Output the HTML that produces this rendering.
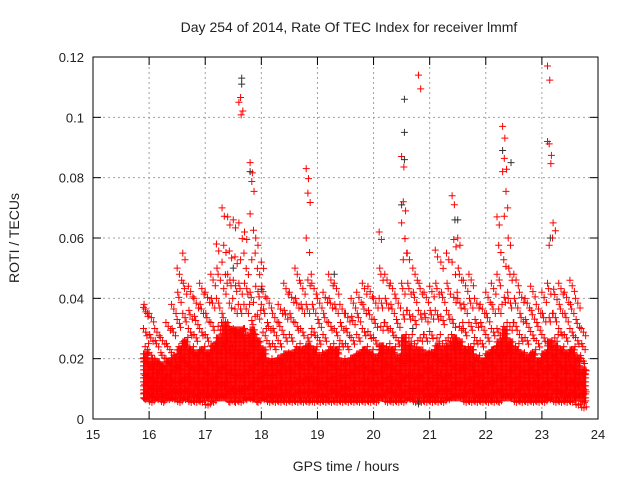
<!DOCTYPE html>
<html><head><meta charset="utf-8"><style>
body{margin:0;background:#fff}
svg text{font-family:"Liberation Sans",sans-serif;fill:#222}
</style></head><body>
<svg id="chart" width="640" height="480" xmlns="http://www.w3.org/2000/svg">
<rect width="640" height="480" fill="#fff"/>
<text x="349" y="32" font-size="14" text-anchor="middle">Day 254 of 2014, Rate Of TEC Index for receiver lmmf</text>
<text transform="translate(19,238) rotate(-90)" font-size="14" text-anchor="middle">ROTI / TECUs</text>
<text x="346" y="471" font-size="14" text-anchor="middle">GPS time / hours</text>
<g id="grid"></g><g id="marks"></g><g id="axes"></g>
</svg>
<script>
const xTicks=[15,16,17,18,19,20,21,22,23,24];
const yTicks=[0,0.02,0.04,0.06,0.08,0.1,0.12];
const yTickLabels=["0","0.02","0.04","0.06","0.08","0.1","0.12"];
const binTimes=[15.9,16.0,16.1,16.2,16.3,16.4,16.5,16.6,16.7,16.8,16.9,17.0,17.1,17.2,17.3,17.4,17.5,17.6,17.7,17.8,17.9,18.0,18.1,18.2,18.3,18.4,18.5,18.6,18.7,18.8,18.9,19.0,19.1,19.2,19.3,19.4,19.5,19.6,19.7,19.8,19.9,20.0,20.1,20.2,20.3,20.4,20.5,20.6,20.7,20.8,20.9,21.0,21.1,21.2,21.3,21.4,21.5,21.6,21.7,21.8,21.9,22.0,22.1,22.2,22.3,22.4,22.5,22.6,22.7,22.8,22.9,23.0,23.1,23.2,23.3,23.4,23.5,23.6,23.7];
// values in thousandths of TECU
const binValues=["37,38,30,25,20,15,12,9,7","35,28,22,18,14,11,8,6","30,26,20,16,13,10,7","27,22,18,14,11,8,6","32,25,20,15,12,9,7","38,30,22,17,13,10,7","50,42,33,25,18,13,9,6","55,45,35,27,20,14,10,7","44,36,30,24,18,13,9,6","40,34,28,22,17,12,8,6","45,38,30,24,18,13,9,6","42,35,28,22,16,12,8,5","48,40,32,25,19,14,10,6","58,50,40,32,24,17,12,8","70,60,52,45,35,26,18,12,8","67,58,48,40,32,24,16,10,6","66,56,46,38,30,22,15,10,6","105,111,65,55,45,38,30,22,15,10,6","62,52,45,38,30,22,16,11,7","85,82,68,55,42,34,26,18,12,7","60,52,44,36,28,20,14,9,6","52,44,38,30,22,16,11,7","40,32,26,20,15,11,8,6","35,30,25,20,15,11,8,6","38,32,26,20,16,12,8,6","45,36,28,22,17,12,9,6","42,35,28,22,17,12,8,6","50,40,32,25,19,13,9,6","45,38,30,24,18,13,9,6","83,78,60,48,38,28,20,14,9,6","45,38,30,24,18,13,9,6","40,33,27,22,17,12,8,6","42,35,28,22,17,12,8,6","48,40,32,25,19,14,10,6","45,38,30,24,18,13,9,6","38,32,26,20,15,11,8,6","35,30,25,20,15,11,8,6","40,34,27,21,16,12,8,6","42,35,28,22,17,12,8,6","45,38,30,24,18,13,9,6","44,36,29,23,17,12,8,6","40,33,27,21,16,12,8,6","62,50,40,32,24,17,12,8","48,40,32,25,19,14,10,6","45,38,30,24,18,13,9,6","40,33,27,21,16,12,8,6","87,75,65,55,45,36,28,20,14,9,6","55,45,36,28,21,15,10,7","50,42,34,26,20,14,10,6","114,45,36,28,21,15,10,6","42,35,28,22,17,12,8,6","44,36,29,23,17,12,8,6","56,45,36,28,21,15,10,6","52,42,34,26,20,14,10,6","55,45,36,28,21,15,10,7","74,62,52,42,33,25,18,12,8","60,50,40,32,24,17,12,8","46,38,30,24,18,13,9,6","48,40,32,25,19,14,10,6","40,33,27,21,16,12,8,6","38,32,26,20,15,11,8,6","42,35,28,22,17,12,8,6","45,38,30,24,18,13,9,6","67,60,48,38,30,22,15,10,6","97,90,82,70,55,42,32,22,14,8","60,50,40,32,24,17,12,8","48,40,32,25,19,14,10,6","42,35,28,22,17,12,8,6","40,33,27,21,16,12,8,6","44,36,29,23,17,12,8,6","38,32,26,20,15,11,8,6","42,35,28,22,17,12,8,6","117,95,92,60,45,35,26,18,12,7","65,43,35,28,21,15,10,6","45,38,30,24,18,13,9,6","42,35,28,22,17,12,8,6","46,38,30,24,18,13,9,6","40,33,27,21,16,12,8,5","30,25,20,16,12,9,6,4"];
const coreLo=0.007;
const coreHi=[0.022,0.02,0.019,0.018,0.02,0.021,0.024,0.026,0.024,0.022,0.024,0.022,0.025,0.028,0.032,0.03,0.03,0.03,0.028,0.03,0.026,0.024,0.02,0.02,0.021,0.022,0.022,0.024,0.023,0.025,0.023,0.021,0.022,0.024,0.023,0.02,0.02,0.021,0.022,0.023,0.022,0.021,0.025,0.024,0.023,0.021,0.028,0.025,0.024,0.024,0.022,0.022,0.025,0.024,0.025,0.028,0.026,0.023,0.024,0.021,0.02,0.022,0.023,0.026,0.03,0.026,0.024,0.022,0.021,0.022,0.02,0.022,0.026,0.025,0.023,0.022,0.023,0.021,0.017];
const blackT=[17.65,17.65,17.8,20.55,20.55,20.55,20.5,21.45,22.45,22.3,18.0,19.3,20.8,20.7,17.5,21.5,23.15];
const blackV=[0.111,0.113,0.082,0.106,0.095,0.086,0.071,0.066,0.085,0.089,0.043,0.048,0.005,0.03,0.05,0.066,0.06];

const L=93,R=598,T=57,B=419;
const xs=t=>L+(t-15)/9*(R-L);
const ys=v=>B-v/0.12*(B-T);
const NS="http://www.w3.org/2000/svg";
const grid=document.getElementById('grid'),marks=document.getElementById('marks'),axes=document.getElementById('axes');
function mk(tag,attrs,parent){const e=document.createElementNS(NS,tag);for(const k in attrs)e.setAttribute(k,attrs[k]);parent.appendChild(e);return e;}
xTicks.forEach((t,i)=>{
  const x=xs(t);
  if(i>0&&i<xTicks.length-1){const g=mk('line',{x1:x,x2:x,y1:T,y2:B,stroke:'#a0a0a0','stroke-dasharray':'2,3'},grid);
  
  }
  mk('line',{x1:x,x2:x,y1:B,y2:B-8,stroke:'#000'},axes);
  mk('line',{x1:x,x2:x,y1:T,y2:T+8,stroke:'#000'},axes);
  const tx=mk('text',{x:x,y:B+20,'font-size':13,'text-anchor':'middle'},axes);tx.textContent=t;
  
  
});
yTicks.forEach((v,i)=>{
  const y=ys(v);
  if(i>0&&i<yTicks.length-1){const g=mk('line',{x1:L,x2:R,y1:y,y2:y,stroke:'#a0a0a0','stroke-dasharray':'2,3'},grid);
  
  }
  mk('line',{x1:L,x2:L+8,y1:y,y2:y,stroke:'#000'},axes);
  mk('line',{x1:R,x2:R-8,y1:y,y2:y,stroke:'#000'},axes);
  const tx=mk('text',{x:L-9,y:y+5,'font-size':13,'text-anchor':'end'},axes);tx.textContent=yTickLabels[i];
  
  
});
const frame=mk('rect',{x:L,y:T,width:R-L,height:B-T,fill:'none',stroke:'#000'},axes);


function plus(x,y,c,parent){const p=mk('path',{d:`M${x-3.5},${y}h7M${x},${y-3.5}v7`,stroke:c,'stroke-width':1,fill:'none'},parent);return p;}
const red=mk('g',{},marks);


binTimes.forEach((t,i)=>{
  for(let k=0;k<5;k++){
    const x=xs(t+k*0.02);
    for(let y=ys(coreLo);y>=ys(coreHi[i]);y-=4){
      const p=plus(x,y,'#f00',red);
      
      
    }
  }
  const vals=binValues[i].split(',').map(Number);
  vals.forEach((v,j)=>{
    const copies=v>50?2:3;
    for(let k=0;k<copies;k++){
      const x=xs(t+((j*3+k*4)%10)*0.01);
      const y=ys(v/1000*(1-0.04*((j+k)%3)));
      const p=plus(x,y,'#f00',red);
      
      
    }
  });
});
const blk=mk('g',{},marks);


blackT.forEach((t,i)=>{
  const p=plus(xs(t),ys(blackV[i]),'#333',blk);
  
  
});
</script>
</body></html>
